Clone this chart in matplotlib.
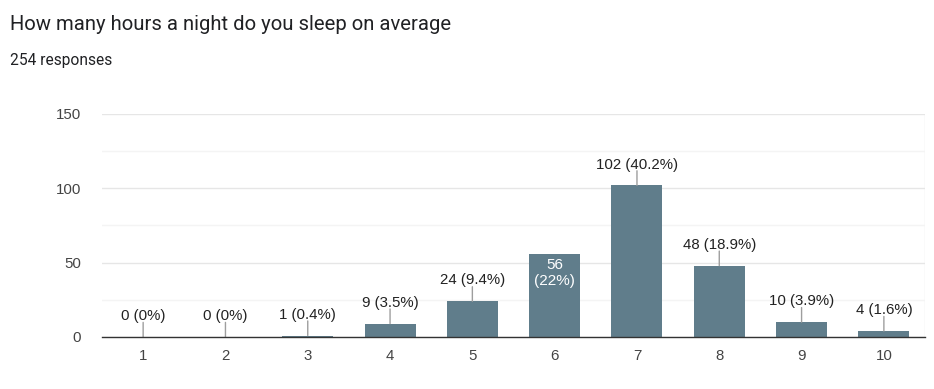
import matplotlib.pyplot as plt

hours = [1, 2, 3, 4, 5, 6, 7, 8, 9, 10]
counts = [0, 0, 1, 9, 24, 56, 102, 48, 10, 4]
percent_labels = ["0%", "0%", "0.4%", "3.5%", "9.4%", "22%", "40.2%", "18.9%", "3.9%", "1.6%"]
y_ticks = [0, 50, 100, 150]

BAR_COLOR = "#607d8b"
LABEL_FONT = "Liberation Sans"


def draw_chart():
    fig = plt.figure(figsize=(9.34, 3.89), dpi=100)
    ax = fig.add_axes([0.1092, 0.1337, 0.8812, 0.5733])

    ax.bar(hours, counts, width=0.62, color=BAR_COLOR, zorder=3)

    for x, n, pct in zip(hours, counts, percent_labels):
        if n == 56:
            # google forms puts this one inside the bar
            ax.annotate(f"{n}\n({pct})", (x, n), xytext=(0, -3), textcoords="offset points",
                        ha="center", va="top", color="white", fontsize=11,
                        family=LABEL_FONT, linespacing=1.2, zorder=5)
            continue
        ax.annotate(f"{n} ({pct})", (x, n), xytext=(0, 15), textcoords="offset points",
                    ha="center", va="center", color="#222222", fontsize=10.8,
                    family=LABEL_FONT, zorder=5)
        ax.annotate("", (x, n), xytext=(0, 10.5), textcoords="offset points",
                    arrowprops=dict(arrowstyle="-", color="#9e9e9e", lw=1.0,
                                    shrinkA=0, shrinkB=0), zorder=4)

    ax.set_xlim(0.5, 10.5)
    ax.set_ylim(0, 150)
    ax.set_xticks(hours)
    ax.set_xticklabels([str(h) for h in hours])
    ax.set_yticks(y_ticks)
    ax.set_yticks([25, 75, 125], minor=True)
    ax.tick_params(axis="both", length=0, labelsize=10.8, labelcolor="#444444")
    ax.tick_params(axis="x", pad=9)
    ax.tick_params(axis="y", pad=15)
    ax.tick_params(which="minor", length=0)
    for lab in ax.get_xticklabels() + ax.get_yticklabels():
        lab.set_family(LABEL_FONT)

    ax.grid(axis="y", which="major", color="#e6e6e6", lw=1.0, zorder=0)
    ax.grid(axis="y", which="minor", color="#f4f4f4", lw=1.0, zorder=0)
    ax.axvline(10.5, color="#e6e6e6", lw=1.0, zorder=0)

    for side in ["top", "right", "left"]:
        ax.spines[side].set_visible(False)
    ax.spines["bottom"].set_color("#333333")
    ax.spines["bottom"].set_linewidth(1.0)
    ax.spines["bottom"].set_zorder(6)

    fig.text(10 / 934, 1 - 25 / 389, "How many hours a night do you sleep on average",
             ha="left", va="center", fontsize=14.6, color="#202124", family="Roboto")
    fig.text(10 / 934, 1 - 61 / 389, "254 responses",
             ha="left", va="center", fontsize=11.2, color="#202124", family="Roboto")

    return fig


if __name__ == "__main__":
    fig = draw_chart()
    fig.savefig("out.png", dpi=100)
